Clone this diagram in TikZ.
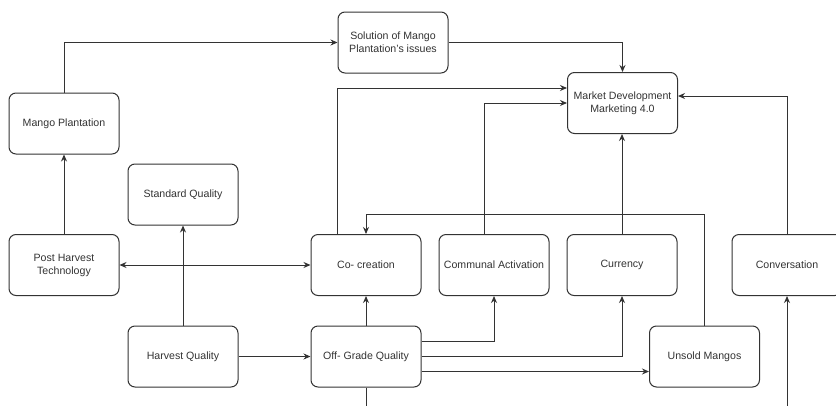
\documentclass[tikz,border=0pt]{standalone}
\usepackage{fontspec}
\setmainfont{Liberation Sans}
\usetikzlibrary{arrows.meta}
\definecolor{ln}{HTML}{333333}
\definecolor{tx}{HTML}{333333}
\tikzset{
  box/.style={draw=ln, line width=1pt, rounded corners=7pt, minimum width=110pt, minimum height=61pt, align=center, text=tx, font=\fontsize{10.6}{13}\selectfont, inner sep=1pt},
  conn/.style={draw=ln, line width=1pt},
  arr/.style={conn, -{Stealth[length=7pt,width=6pt]}},
  darr/.style={conn, {Stealth[length=7pt,width=6pt]}-{Stealth[length=7pt,width=6pt]}}
}
\begin{document}
\begin{tikzpicture}[x=1pt,y=-1pt]
\useasboundingbox[fill=white] (0,0) rectangle (836,405);
\node[box] (sol) at (393,42.5) {Solution of Mango\\Plantation's issues};
\node[box] (mkt) at (622.5,103) {Market Development\\Marketing 4.0};
\node[box] (mp) at (64,123.5) {Mango Plantation};
\node[box] (sq) at (183,194.5) {Standard Quality};
\node[box] (pht) at (64,265) {Post Harvest\\Technology};
\node[box] (cc) at (366,265) {Co- creation};
\node[box] (ca) at (494,265) {Communal Activation};
\node[box] (cur) at (622,265) {Currency};
\node[box] (conv) at (787,265) {Conversation};
\node[box] (hq) at (183,356.5) {Harvest Quality};
\node[box] (og) at (366,356.5) {Off- Grade Quality};
\node[box] (um) at (704.5,356.5) {Unsold Mangos};
\coordinate (bot) at (0,410);
% connectors
\draw[arr] (mp.north) |- (sol.west);
\draw[arr] (pht.north) -- (mp.south);
\draw[arr] (sol.east) -| (mkt.north);
\draw[arr] ([xshift=27pt]cc.north west) |- ([yshift=15pt]mkt.west);
\draw[arr] ([xshift=-10pt]ca.north) |- (mkt.west);
\draw[arr] (cur.north) -- (cur.north |- mkt.south);
\draw[arr] (conv.north) |- ([yshift=7pt]mkt.east);
\draw[arr] (um.north) |- ([yshift=20pt]cc.north) -- (cc.north);
\draw[darr] (pht.east) -- (cc.west);
\draw[arr] (hq.north) -- (sq.south);
\draw[arr] (hq.east) -- (og.west);
\draw[arr] (og.north) -- (cc.south);
\draw[arr] ([yshift=15.5pt]og.east) -| (ca.south);
\draw[arr] (og.east) -| (cur.south);
\draw[arr] ([yshift=-15pt]og.east) -- ([yshift=-15pt]um.west);
\draw[conn] (og.south) -- (og.south |- bot);
\draw[arr] (conv.south |- bot) -- (conv.south);
\end{tikzpicture}
\end{document}
